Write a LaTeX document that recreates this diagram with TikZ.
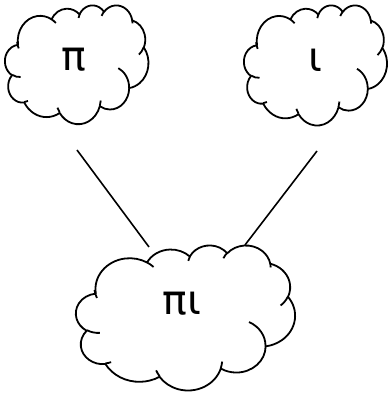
\documentclass[tikz,border=0pt]{standalone}
\usepackage{fontspec}
\setmainfont{DejaVu Sans}
\usetikzlibrary{positioning}

% one puff of the cloud outline, angles as seen from the centre
\newcommand\puffarc[5]{%
  \pgfmathsetmacro\puffa{atan2(#2*sin(#4),#3*cos(#4))}%
  \pgfmathsetmacro\puffb{atan2(#2*sin(#4+#5),#3*cos(#4+#5))}%
  \pgfmathsetmacro\puffb{\puffa+mod(\puffb-\puffa+720,360)}%
  \xdef#1{#1 arc[x radius=#2pt, y radius=#3pt, start angle=\puffa, end angle=\puffb]}%
}
\xdef\cloudrim{(3.900,14.370)}
\puffarc\cloudrim{6.753}{9.190}{-190.4875}{123.7805}
\puffarc\cloudrim{5.333}{7.267}{-144.1024}{89.9452}
\puffarc\cloudrim{4.365}{5.945}{-145.8079}{99.7230}
\puffarc\cloudrim{4.857}{6.595}{-130.9861}{117.2417}
\puffarc\cloudrim{5.333}{7.273}{-78.7089}{109.0269}
\puffarc\cloudrim{6.775}{9.220}{-46.2673}{130.2690}
\puffarc\cloudrim{5.785}{7.867}{0.6250}{114.0333}
\puffarc\cloudrim{6.752}{9.215}{22.4516}{115.1726}
\puffarc\cloudrim{7.720}{10.543}{66.2426}{75.7110}
\puffarc\cloudrim{4.360}{5.918}{-274.9421}{146.7356}
\puffarc\cloudrim{4.345}{5.945}{-246.8285}{152.5189}
% inner curls
\xdef\cloudcurls{}
\newcommand\curl[6]{\xdef\cloudcurls{\cloudcurls #1}\puffarc\cloudcurls{#2}{#3}{#4}{#5}}
\curl{(4.693,26.177)}{4.345}{5.945}{86.7420}{26.4295}{}
\curl{(6.928,34.899)}{4.360}{5.918}{73.6105}{11.4475}{}
\curl{(16.478,39.090)}{6.752}{9.215}{137.6242}{14.0811}{}
\curl{(28.827,34.751)}{6.752}{9.215}{6.4533}{15.9984}{}
\curl{(34.129,22.954)}{5.785}{7.867}{-70.2924}{70.9174}{}
\curl{(41.798,15.354)}{5.333}{7.273}{30.3180}{27.7515}{}
\curl{(38.324,5.426)}{4.857}{6.595}{-13.7443}{14.8589}{}
\curl{(29.078,3.952)}{4.857}{6.595}{-149.1815}{18.1954}{}
\curl{(22.141,4.720)}{4.365}{5.945}{-163.4943}{17.6864}{}
\curl{(14.000,5.192)}{6.753}{9.190}{-66.7070}{12.3194}{}
\curl{(4.127,15.789)}{6.753}{9.190}{150}{20}{}

\tikzset{
  cloudline/.style={line width=1.8pt,line join=round},
  puffcloud/.pic={\draw[cloudline] \cloudrim -- cycle; \draw[cloudline] \cloudcurls;},
  label/.style={inner sep=0pt,font=\fontsize{41}{41}\selectfont}
}

\begin{document}
\begin{tikzpicture}[x=1pt,y=1pt]
\useasboundingbox (0,0) rectangle (390,394);
\pic at (5,389) [xscale=3.32,yscale=-2.75] {puffcloud};
\pic at (244,389) [xscale=3.31,yscale=-2.78] {puffcloud};
\pic at (76,149) [xscale=5.07,yscale=-3.356] {puffcloud};
\node[label] (pi) at (74,334) {π};
\node[label] (iota) at (315,334) {ι};
\node[label] (piiota) at (182,90) {πι};
\coordinate (pi-foot) at (77,244);
\coordinate (iota-foot) at (317,243);
\coordinate (piiota-left) at (149,147);
\coordinate (piiota-right) at (245,149);
\draw[line width=1.6pt] (pi-foot) -- (piiota-left);
\draw[line width=1.6pt] (iota-foot) -- (piiota-right);
\end{tikzpicture}
\end{document}
